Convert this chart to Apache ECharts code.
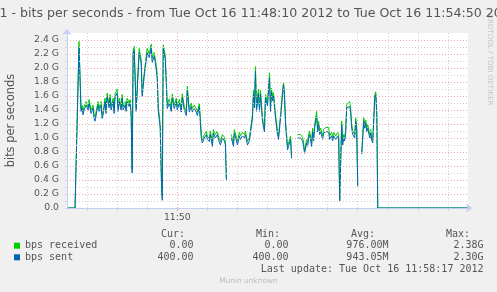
<!DOCTYPE html>
<html><head><meta charset="utf-8">
<script src="https://cdn.jsdelivr.net/npm/echarts@6/dist/echarts.min.js"></script>
<style>html,body{margin:0;padding:0;background:#f0f0f0;} #c{width:497px;height:292px;}</style>
</head><body><div id="c"></div>
<script>
// seconds since 11:48:10
const times = [0,8,12,14,15,16,17,19,21,22,24,26,27,28,30,31,32,34,35,36,38,39,40,42,43,44,46,47,48,50,51,52,54,55,56,58,59,60,62,63,64,65,66,67,69,72,74,75,77,80,82,84,85,87,89,90,91,93,94,95,96,98,99,100,102,104,105,107,109,110,112,114,115,117,119,120,122,124,125,127,129,130,132,134,135,137,139,140,142,143,145,146,148,150,151,153,155,157,158,159,161,164,166,167,168,170,172,173,175,177,178,180,182,183,185,186,187,188,189,191,192,193,195,196,197,198,200,202,203,204,205,206,208,210,211,213,215,216,217,218,220,221,223,224,227,230,231,233,235,236,237,239,240,241,242,244,245,246,247,249,250,251,252,253,255,256,258,261,262,264,265,266,268,270,271,272,274,275,276,277,278,279,280,282,283,284,285,286,287,288,289,290,292,294,296,297,298,299,300,302,303,304,305,306,307,308,309,310,400];
// Gbps
const sent = [0,0,2.30,1.38,1.43,1.33,1.40,1.47,1.40,1.50,1.35,1.43,1.28,1.24,1.40,1.47,1.38,1.47,1.28,1.33,1.52,1.35,1.59,1.43,1.57,1.40,1.52,1.35,1.59,1.64,1.38,1.52,1.40,1.57,1.40,1.47,1.38,1.52,1.45,1.50,1.30,0.50,2.20,2.26,1.38,2.22,2.07,1.59,1.88,2.22,2.15,2.28,2.08,2.17,1.98,1.85,1.40,1.14,0.45,0.11,2.28,2.13,1.80,1.42,1.50,1.38,1.57,1.42,1.52,1.40,1.50,1.37,1.58,1.40,1.32,1.68,1.37,1.45,1.37,1.42,1.37,1.32,1.45,1.00,0.93,1.00,1.05,0.98,0.95,1.05,0.88,1.07,1.00,1.05,0.98,0.90,1.00,0.96,0.90,0.40,null,1.00,0.88,1.07,1.09,0.90,1.03,0.98,1.03,1.00,1.05,0.90,0.96,0.98,1.28,1.62,1.43,1.95,1.38,1.64,1.38,1.62,1.24,1.14,1.09,1.57,1.46,1.86,1.38,1.66,1.53,1.60,1.28,1.05,0.98,1.28,1.62,1.76,1.57,1.19,0.83,0.88,0.98,0.71,null,1.00,0.98,1.00,0.96,0.88,0.78,0.93,0.88,1.00,1.05,0.88,1.09,0.96,1.14,1.31,1.09,1.19,1.05,1.09,0.98,1.07,1.09,1.09,0.98,1.03,0.96,1.03,0.98,1.03,1.00,0.10,1.19,0.90,1.00,0.96,1.07,1.43,1.41,1.45,1.36,1.14,1.05,1.05,1.00,1.24,1.09,0.31,null,0.77,1.24,1.14,1.21,1.09,1.14,1.00,1.07,0.96,0.93,0.93,1.57,1.62,1.33,0,0];
const received = [0,0,2.38,1.42,1.47,1.38,1.45,1.52,1.44,1.55,1.40,1.47,1.33,1.30,1.45,1.52,1.43,1.52,1.33,1.38,1.57,1.40,1.64,1.48,1.62,1.45,1.57,1.40,1.63,1.70,1.43,1.57,1.45,1.62,1.45,1.52,1.43,1.57,1.50,1.55,1.36,0.55,2.25,2.31,1.43,2.28,2.12,1.65,1.93,2.28,2.20,2.34,2.14,2.22,2.04,1.90,1.45,1.20,0.52,0.18,2.33,2.18,1.85,1.47,1.56,1.43,1.63,1.47,1.57,1.45,1.55,1.42,1.63,1.45,1.37,1.74,1.42,1.50,1.42,1.47,1.42,1.37,1.50,1.04,0.97,1.05,1.10,1.02,1.00,1.10,0.93,1.12,1.05,1.10,1.03,0.95,1.05,1.01,0.95,0.42,null,1.05,0.93,1.12,1.14,0.95,1.08,1.03,1.08,1.05,1.10,0.95,1.01,1.03,1.33,1.68,1.48,2.02,1.43,1.70,1.43,1.68,1.29,1.19,1.14,1.62,1.51,1.93,1.43,1.71,1.58,1.65,1.33,1.10,1.03,1.33,1.67,1.80,1.62,1.24,0.88,0.93,1.03,0.74,null,1.05,1.03,1.05,1.01,0.93,0.82,0.98,0.93,1.05,1.10,0.93,1.14,1.01,1.19,1.38,1.14,1.24,1.10,1.14,1.03,1.12,1.15,1.15,1.03,1.08,1.01,1.08,1.03,1.08,1.05,0.12,1.24,0.95,1.05,1.01,1.12,1.48,1.46,1.52,1.41,1.19,1.10,1.10,1.05,1.29,1.14,0.33,null,0.80,1.29,1.19,1.26,1.14,1.19,1.05,1.12,1.01,0.98,0.98,1.62,1.66,1.38,0,0];

const yTickLabels = ['0.0','0.2 G','0.4 G','0.6 G','0.8 G','1.0 G','1.2 G','1.4 G','1.6 G','1.8 G','2.0 G','2.2 G','2.4 G'];
const xTickLabels = ['11:50'];
const legendNames = ['bps received','bps sent'];
const statHeaders = ['Cur:','Min:','Avg:','Max:'];
const receivedStats = ['0.00','0.00','976.00M','2.38G'];
const sentStats = ['400.00','400.00','943.05M','2.30G'];
const titleText = '1 - bits per seconds - from Tue Oct 16 11:48:10 2012 to Tue Oct 16 11:54:50 2012';
const yAxisTitle = 'bits per seconds';
const lastUpdate = 'Last update: Tue Oct 16 11:58:17 2012';
const watermark = 'RRDTOOL / TOBI OETIKER';
const footer = 'Munin unknown';

// 10-second categories across the span, for grid lines/ticks
const cats = [];
for (let i = 0; i <= 40; i++) {
  const s = 48 * 60 + 10 + i * 10;
  const m = Math.floor(s / 60), sec = s % 60;
  cats.push('11:' + String(m).padStart(2, '0') + ':' + String(sec).padStart(2, '0'));
}
const majorIdx = cats.indexOf(xTickLabels[0] + ':00');

const FONT = 'DejaVu Sans';
const MONO = 'DejaVu Sans Mono';
const TXT = '#555';
const AXIS = '#c4cdf5';
const GRID = '#d2d2d2';
const MGRID = '#eaa6a6';

const chart = echarts.init(document.getElementById('c'), null, {renderer: 'canvas'});

const graphics = [
  {type: 'text', x: 11, y: 120.5, rotation: Math.PI / 2,
   style: {text: yAxisTitle, fill: TXT, font: '11.4px "DejaVu Sans"', textAlign: 'center', textVerticalAlign: 'middle', verticalAlign: 'middle'}},
  {type: 'text', x: 490, y: 14, rotation: -Math.PI / 2,
   style: {text: watermark, fill: '#c6c6c6', font: '7.1px "DejaVu Sans"', textAlign: 'left', textVerticalAlign: 'middle', verticalAlign: 'middle'}},
  {type: 'text', x: 483.5, y: 269, style: {text: lastUpdate, fill: TXT, font: '10px "DejaVu Sans Mono"', textAlign: 'right', textVerticalAlign: 'middle', verticalAlign: 'middle'}},
  {type: 'text', x: 248.5, y: 281.5, style: {text: footer, fill: '#bdbdbd', font: '7.4px "DejaVu Sans"', textAlign: 'center', textVerticalAlign: 'middle', verticalAlign: 'middle'}}
];
const headerRight = [185, 280, 375, 470];
const valueRight = [193.5, 288.5, 388.5, 483.5];
statHeaders.forEach((h, i) => {
  graphics.push({type: 'text', x: headerRight[i], y: 234.3, style: {text: h, fill: TXT, font: '10px "DejaVu Sans Mono"', textAlign: 'right', textVerticalAlign: 'middle', verticalAlign: 'middle'}});
  graphics.push({type: 'text', x: valueRight[i], y: 245.7, style: {text: receivedStats[i], fill: TXT, font: '10px "DejaVu Sans Mono"', textAlign: 'right', textVerticalAlign: 'middle', verticalAlign: 'middle'}});
  graphics.push({type: 'text', x: valueRight[i], y: 257.3, style: {text: sentStats[i], fill: TXT, font: '10px "DejaVu Sans Mono"', textAlign: 'right', textVerticalAlign: 'middle', verticalAlign: 'middle'}});
});

const option = {
  animation: false,
  backgroundColor: '#f0f0f0',
  title: {text: titleText, left: -0.5, top: 6.8, padding: 0,
    textStyle: {fontFamily: FONT, fontSize: 12.6, fontWeight: 'normal', color: TXT}},
  legend: {data: legendNames, orient: 'vertical', left: 14, top: 239.9, padding: 0,
    icon: 'rect', itemWidth: 6, itemHeight: 6, itemGap: 0, selectedMode: false,
    textStyle: {fontFamily: MONO, fontSize: 10, color: TXT, lineHeight: 11.6}},
  grid: {left: 67, right: 29, top: 33, bottom: 84, show: true, backgroundColor: '#ffffff', borderWidth: 0, containLabel: false},
  xAxis: [
    {type: 'value', min: 0, max: 400, position: 'bottom', z: 5,
     axisLine: {show: true, lineStyle: {color: AXIS, width: 1}, symbol: ['none', 'arrow'], symbolSize: [7, 6], symbolOffset: [0, 4]},
     axisTick: {show: false}, axisLabel: {show: false}, splitLine: {show: false}},
    {type: 'category', data: cats, boundaryGap: false, position: 'bottom',
     axisLine: {show: false},
     axisTick: {show: true, length: 3, interval: (i) => i % 3 === 2 && i !== majorIdx, lineStyle: {color: '#cfcfcf'}},
     axisLabel: {show: false},
     splitLine: {show: true, interval: (i) => i % 3 === 2 && i !== majorIdx, lineStyle: {color: GRID, type: [1, 2], width: 1}}},
    {type: 'category', data: cats, boundaryGap: false, position: 'bottom',
     axisLine: {show: false},
     axisTick: {show: true, length: 3, interval: (i) => i === majorIdx, lineStyle: {color: MGRID}},
     axisLabel: {show: true, interval: (i) => i === majorIdx, margin: 5, formatter: (v) => v.slice(0, 5),
       fontFamily: FONT, fontSize: 9.3, color: TXT},
     splitLine: {show: true, interval: (i) => i === majorIdx, lineStyle: {color: MGRID, type: [1, 2], width: 1}}}
  ],
  yAxis: [
    {type: 'value', min: 0, max: 2.5, interval: 0.1, z: 5,
     axisLine: {show: true, lineStyle: {color: AXIS, width: 1}, symbol: ['none', 'arrow'], symbolSize: [7, 6], symbolOffset: [0, 4]},
     axisTick: {show: true, length: 2, lineStyle: {color: '#d8d8d8'}},
     axisLabel: {margin: 8, fontFamily: FONT, fontSize: 9.3, color: TXT, showMaxLabel: false,
       formatter: (v) => { const k = Math.round(v * 10); return k % 2 === 0 ? (yTickLabels[k / 2] || '') : ''; }},
     splitLine: {show: true, showMaxLine: false, lineStyle: {color: [MGRID, GRID], type: [1, 2], width: 1}}}
  ],
  series: [
    {name: legendNames[0], type: 'line', xAxisIndex: 0, yAxisIndex: 0, showSymbol: false, symbol: 'none',
     connectNulls: false, color: '#00cc00', lineStyle: {width: 1, color: '#00cc00'}, z: 3,
     data: times.map((t, i) => [t, received[i]])},
    {name: legendNames[1], type: 'line', xAxisIndex: 0, yAxisIndex: 0, showSymbol: false, symbol: 'none',
     connectNulls: false, color: '#0066b3', lineStyle: {width: 1, color: '#0066b3'}, z: 4,
     data: times.map((t, i) => [t, sent[i]])}
  ],
  graphic: graphics
};
chart.setOption(option);
</script></body></html>
